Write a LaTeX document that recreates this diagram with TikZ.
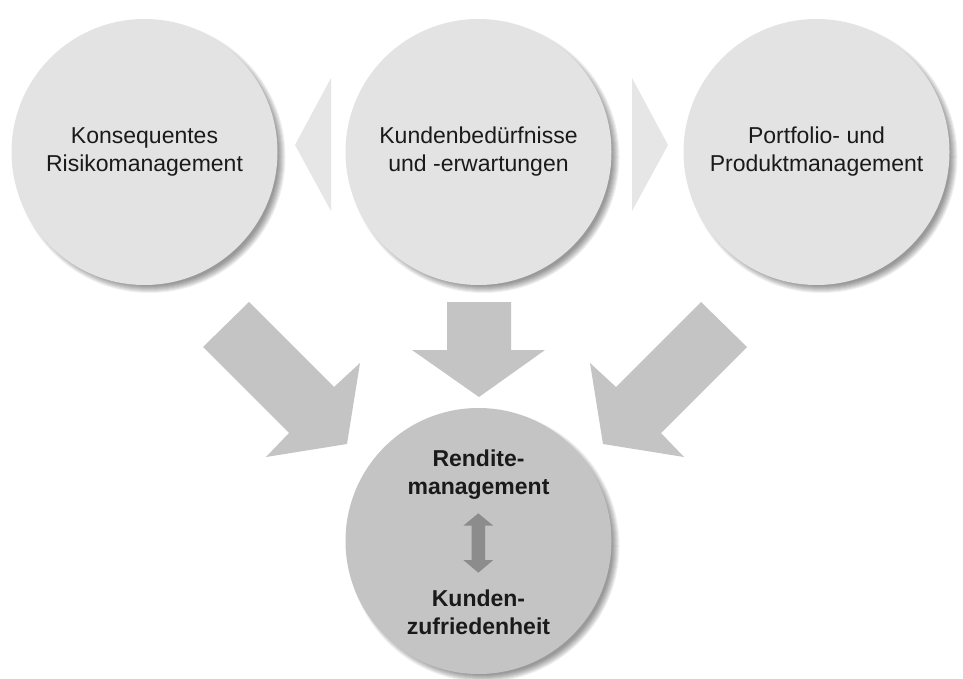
\documentclass[tikz,border=0pt]{standalone}
\usepackage{fontspec}
\setmainfont{Liberation Sans}
\usetikzlibrary{calc}
\definecolor{circlegray}{HTML}{E3E3E3}
\definecolor{pointergray}{HTML}{E6E6E6}
\definecolor{arrowgray}{HTML}{C4C4C4}
\definecolor{coregray}{HTML}{C4C4C4}
\definecolor{dblgray}{HTML}{8C8C8C}
\definecolor{txt}{HTML}{1A1A1A}
\newcommand\mysoftshadow[2]{%
  \foreach \k in {-4,...,3} {\fill[black, opacity=0.06] ($(#1)+(5,5)$) circle ({#2pt+\k pt});}}
\begin{document}
\begin{tikzpicture}[x=1pt,y=-1pt,
  topcircle/.style={circle, fill=circlegray, minimum size=266pt, inner sep=0pt, align=center,
    font=\fontsize{23}{28}\selectfont, text=txt},
  corecircle/.style={circle, fill=coregray, minimum size=266pt, inner sep=0pt},
  coretext/.style={align=center, font=\fontsize{23}{28}\selectfont\bfseries, text=txt},
  blockarrow/.style={fill=arrowgray},
  pointer/.style={fill=pointergray},
  dblarrow/.style={fill=dblgray}]
\useasboundingbox (0,0) rectangle (963,679);
\fill[white] (0,0) rectangle (963,679);

\coordinate (cL) at (144.5,152);
\coordinate (cM) at (478.5,152);
\coordinate (cR) at (816.5,152);
\coordinate (cC) at (478.5,541);

% pointers between circles
\fill[pointer] (331,78) -- (331,211) -- (295,145) -- cycle;
\fill[pointer] (632,78) -- (632,211) -- (668,145) -- cycle;

% shadows
\mysoftshadow{cL}{133}
\mysoftshadow{cM}{133}
\mysoftshadow{cR}{133}
\mysoftshadow{cC}{133}

% top circles
\node[topcircle] (L) at (cL) {Konsequentes\\Risikomanagement};
\node[topcircle] (M) at (cM) {Kundenbedürfnisse\\und -erwartungen};
\node[topcircle] (R) at (cR) {Portfolio- und\\Produktmanagement};

% block arrows
\fill[blockarrow] (203,347) -- (249,302) -- (334,387) -- (360,363) -- (347,444) -- (266,457) -- (289,433) -- cycle;
\fill[blockarrow] (747,347) -- (701,302) -- (616,387) -- (590,363) -- (603,444) -- (684,457) -- (661,433) -- cycle;
\fill[blockarrow] (447,302) -- (511,302) -- (511,350) -- (545,350) -- (479,397) -- (412,350) -- (447,350) -- cycle;

% core circle
\node[corecircle] (C) at (cC) {};
\node[coretext] (ren) at (478.5,475) {Rendite-\\management};
\node[coretext] (kun) at (478.5,612) {Kunden-\\zufriedenheit};

% double arrow
\fill[dblarrow] (478.3,513.3) -- (493.3,525.7) -- (485,525.7) -- (485,560) -- (493.3,560)
  -- (478.3,572.7) -- (463.3,560) -- (471.7,560) -- (471.7,525.7) -- (463.3,525.7) -- cycle;
\end{tikzpicture}
\end{document}
